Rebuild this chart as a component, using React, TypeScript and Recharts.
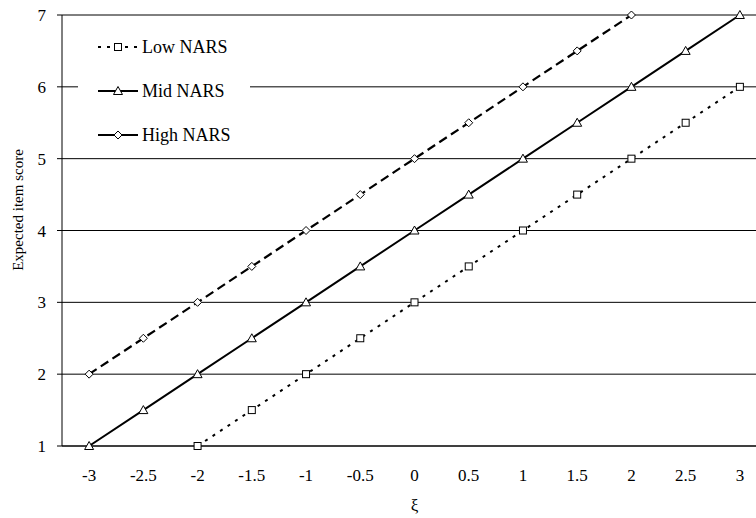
import React from 'react';
import { LineChart, Line, XAxis, YAxis, CartesianGrid, Legend, Label } from 'recharts';

const xValues = [-3, -2.5, -2, -1.5, -1, -0.5, 0, 0.5, 1, 1.5, 2, 2.5, 3];
const lowNars: (number | null)[] = [null, null, 1, 1.5, 2, 2.5, 3, 3.5, 4, 4.5, 5, 5.5, 6];
const midNars: (number | null)[] = [1, 1.5, 2, 2.5, 3, 3.5, 4, 4.5, 5, 5.5, 6, 6.5, 7];
const highNars: (number | null)[] = [2, 2.5, 3, 3.5, 4, 4.5, 5, 5.5, 6, 6.5, 7, null, null];
const xTickLabels = [-3, -2.5, -2, -1.5, -1, -0.5, 0, 0.5, 1, 1.5, 2, 2.5, 3];
const xBoundaryTicks = [-3.25, -2.75, -2.25, -1.75, -1.25, -0.75, -0.25, 0.25, 0.75, 1.25, 1.75, 2.25, 2.75, 3.25];
const yTicks = [1, 2, 3, 4, 5, 6, 7];
const seriesNames = ['Low NARS', 'Mid NARS', 'High NARS'];

const data = xValues.map((x, i) => ({ x, low: lowNars[i], mid: midNars[i], high: highNars[i] }));

const FONT = '"Liberation Serif", "Times New Roman", serif';

const Square = (props: any) => {
  const { cx, cy, index } = props;
  if (cx == null || cy == null || props.value == null) return <g key={index} />;
  return <rect key={index} x={cx - 3.5} y={cy - 3.5} width={7} height={7} fill="#fff" stroke="#000" strokeWidth={1} />;
};
const Triangle = (props: any) => {
  const { cx, cy, index } = props;
  if (cx == null || cy == null || props.value == null) return <g key={index} />;
  return (
    <polygon key={index} points={`${cx},${cy - 4.5} ${cx - 4.5},${cy + 3.5} ${cx + 4.5},${cy + 3.5}`} fill="#fff" stroke="#000" strokeWidth={1} />
  );
};
const Diamond = (props: any) => {
  const { cx, cy, index } = props;
  if (cx == null || cy == null || props.value == null) return <g key={index} />;
  return (
    <polygon key={index} points={`${cx},${cy - 4} ${cx + 4},${cy} ${cx},${cy + 4} ${cx - 4},${cy}`} fill="#fff" stroke="#000" strokeWidth={1} />
  );
};

const renderLegend = () => {
  const rows = [
    { name: seriesNames[0], dash: '3 6', marker: 'square' },
    { name: seriesNames[1], dash: undefined, marker: 'triangle' },
    { name: seriesNames[2], dash: '16 8', marker: 'diamond' },
  ];
  return (
    <svg width={172} height={132} style={{ display: 'block', background: '#fff' }}>
      {rows.map((r, i) => {
        const cy = 22 + i * 44;
        const cx = 40;
        return (
          <g key={r.name}>
            <line x1={20} x2={60} y1={cy} y2={cy} stroke="#000" strokeWidth={2} strokeDasharray={r.dash} />
            {r.marker === 'square' && <Square cx={cx} cy={cy} value={1} index={0} />}
            {r.marker === 'triangle' && <Triangle cx={cx} cy={cy} value={1} index={0} />}
            {r.marker === 'diamond' && <Diamond cx={cx} cy={cy} value={1} index={0} />}
            <text x={64} y={cy} dy="0.35em" fontFamily={FONT} fontSize={18} fill="#000">{r.name}</text>
          </g>
        );
      })}
    </svg>
  );
};

export default function App() {
  return (
    <div style={{ position: 'absolute', left: 0, top: 0, width: 756, height: 518, overflow: 'hidden', background: '#fff' }}>
      <LineChart width={767} height={518} data={data} margin={{ top: 15, right: 0, bottom: 2, left: 0 }}>
        <CartesianGrid xAxisId="lab" vertical={false} stroke="#000" strokeWidth={1} />
        <XAxis
          xAxisId="ticks"
          type="number"
          dataKey="x"
          domain={[-3.25, 3.25]}
          ticks={xBoundaryTicks}
          interval={0}
          height={0}
          tick={false}
          axisLine={false}
          tickLine={{ stroke: '#000', strokeWidth: 1 }}
          tickSize={6}
        />
        <XAxis
          xAxisId="lab"
          type="number"
          dataKey="x"
          domain={[-3.25, 3.25]}
          ticks={xTickLabels}
          interval={0}
          height={70}
          tickLine={false}
          tickSize={0}
          tickMargin={23}
          axisLine={{ stroke: '#000', strokeWidth: 1 }}
          tick={{ fontFamily: FONT, fontSize: 17, fill: '#000' }}
        >
          <Label value="ξ" position="insideBottom" offset={5} style={{ fontFamily: FONT, fontSize: 17, fill: '#000' }} />
        </XAxis>
        <YAxis
          type="number"
          domain={[1, 7]}
          ticks={yTicks}
          interval={0}
          width={62}
          tickSize={5}
          tickMargin={11}
          axisLine={{ stroke: '#000', strokeWidth: 1 }}
          tickLine={{ stroke: '#000', strokeWidth: 1 }}
          tick={{ fontFamily: FONT, fontSize: 17, fill: '#000' }}
        >
          <Label
            content={() => (
              <text x={18} y={210} transform="rotate(-90 18 210)" textAnchor="middle" dominantBaseline="central" fontFamily={FONT} fontSize={15} fill="#000">
                Expected item score
              </text>
            )}
          />
        </YAxis>
        <Legend
          layout="vertical"
          align="center"
          verticalAlign="middle"
          content={renderLegend}
          wrapperStyle={{ left: 78, top: 25, width: 172, height: 132 }}
        />
        <Line xAxisId="lab" type="linear" dataKey="low" name={seriesNames[0]} stroke="#000" strokeWidth={2} strokeDasharray="3 6" dot={Square} activeDot={false} isAnimationActive={false} legendType="none" />
        <Line xAxisId="lab" type="linear" dataKey="mid" name={seriesNames[1]} stroke="#000" strokeWidth={2} dot={Triangle} activeDot={false} isAnimationActive={false} legendType="none" />
        <Line xAxisId="lab" type="linear" dataKey="high" name={seriesNames[2]} stroke="#000" strokeWidth={2.2} strokeDasharray="9 5" dot={Diamond} activeDot={false} isAnimationActive={false} legendType="none" />
      </LineChart>
    </div>
  );
}
